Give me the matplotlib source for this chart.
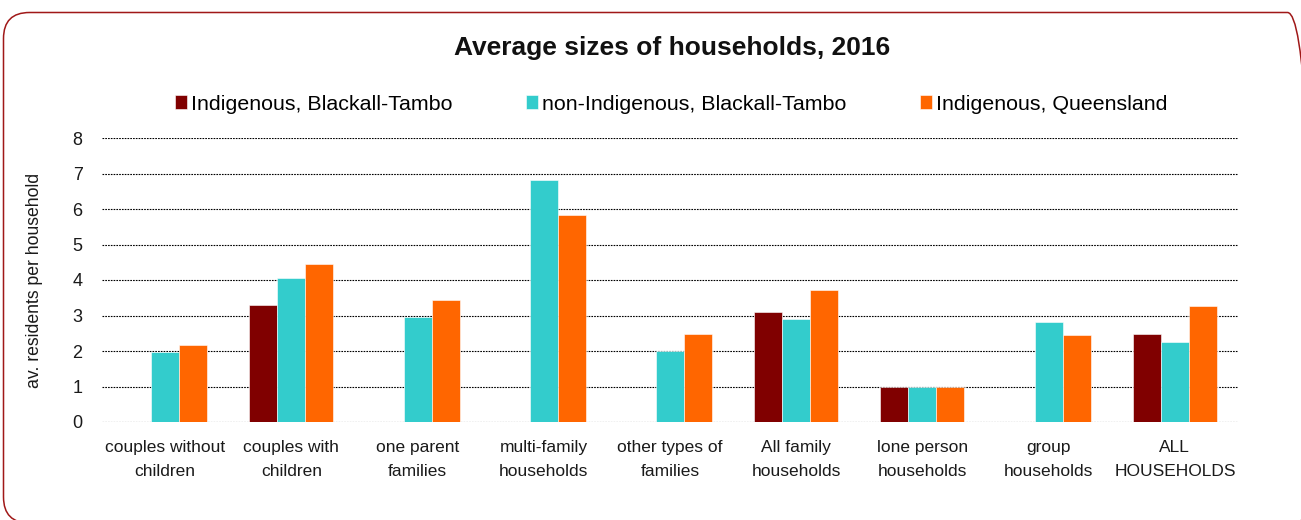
import matplotlib
matplotlib.use("Agg")
import matplotlib.pyplot as plt
import numpy as np
from matplotlib.patches import FancyBboxPatch

plt.rcParams['font.family'] = ['Liberation Sans', 'DejaVu Sans']

categories = [
    "couples without\nchildren", "couples with\nchildren", "one parent\nfamilies",
    "multi-family\nhouseholds", "other types of\nfamilies", "All family\nhouseholds",
    "lone person\nhouseholds", "group\nhouseholds", "ALL\nHOUSEHOLDS",
]
indig_bt = [np.nan, 3.3, np.nan, np.nan, np.nan, 3.11, 1.0, np.nan, 2.48]
nonindig_bt = [1.98, 4.05, 2.95, 6.81, 2.0, 2.9, 1.0, 2.83, 2.25]
indig_qld = [2.17, 4.45, 3.44, 5.83, 2.48, 3.71, 1.0, 2.44, 3.28]

series_names = ["Indigenous, Blackall-Tambo", "non-Indigenous, Blackall-Tambo",
                "Indigenous, Queensland"]
colors = ["#800000", "#33CCCC", "#FF6600"]

W, H = 1301, 520
fig = plt.figure(figsize=(W / 100, H / 100), dpi=100)

# rounded frame drawn in pixel coordinates (origin bottom-left)
frame_ax = fig.add_axes([0, 0, 1, 1], zorder=-1)
frame_ax.set_xlim(0, W)
frame_ax.set_ylim(0, H)
frame_ax.axis("off")
frame_ax.add_patch(FancyBboxPatch((3.5, -3), 1310, H - 12.5 + 3,
                                  boxstyle="round,pad=0,rounding_size=26",
                                  fill=False, edgecolor="#A01818", linewidth=1.1))

ax = fig.add_axes([102 / W, 1 - 422 / H, (1238 - 102) / W, (422 - 138) / H])

x = np.arange(len(categories))
w = 0.222
handles = []
for i, (vals, c, name) in enumerate(zip([indig_bt, nonindig_bt, indig_qld], colors, series_names)):
    h = ax.bar(x + (i - 1) * w, vals, width=w, color=c, label=name, zorder=3,
               edgecolor="white", linewidth=0.4)
    handles.append(h)

ax.set_xlim(-0.5, len(categories) - 0.5)
ax.set_ylim(0, 8)
ax.set_yticks(range(0, 9))
ax.yaxis.grid(True, linestyle=(0, (1.5, 1)), color="black", linewidth=0.8, zorder=0)
ax.set_axisbelow(True)
for s in ax.spines.values():
    s.set_visible(False)
ax.tick_params(axis="both", length=0, colors="#1a1a1a")
ax.tick_params(axis="y", pad=14, labelsize=13)
ax.tick_params(axis="x", pad=13, labelsize=12.5)
ax.set_xticks(x)
ax.set_xticklabels(categories, linespacing=1.75)
ax.set_ylabel("av. residents per household", fontsize=12.7, labelpad=21, color="#1a1a1a")

fig.text(0.5165, 1 - 48 / H, "Average sizes of households, 2016", ha="center", va="center",
         fontsize=19, fontweight="bold", color="#111111")

fig.legend(handles=handles, loc="center", bbox_to_anchor=(0.516, 1 - 104 / H), ncol=3,
           frameon=False, fontsize=15.4, handlelength=0.55, handleheight=0.6,
           handletextpad=0.2, columnspacing=3.45)

fig.savefig("out.png", dpi=100)
